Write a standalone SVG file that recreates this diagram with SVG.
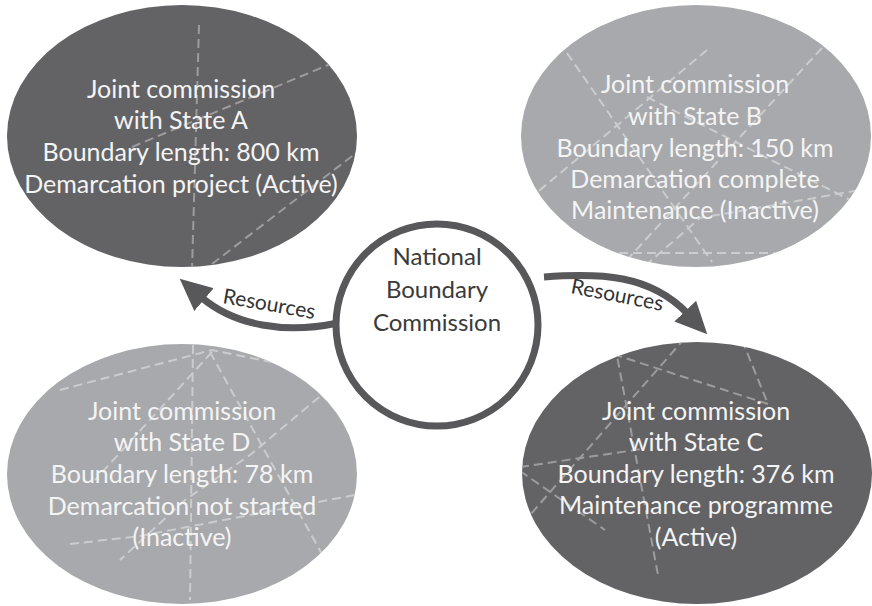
<svg xmlns="http://www.w3.org/2000/svg" width="872" height="606" viewBox="0 0 872 606">
<style>
.dark{fill:#636365}
.light{fill:#a8a9ac}
.dashD{fill:none;stroke:#9c9c9e;stroke-width:2;stroke-dasharray:9 5}
.dashL{fill:none;stroke:#cbcccd;stroke-width:2;stroke-dasharray:9 5}
.lbl{font-family:Lato,"Open Sans","Liberation Sans",sans-serif;font-size:25px;fill:#f4f4f4;text-anchor:middle}
.ctr{font-family:Lato,"Open Sans","Liberation Sans",sans-serif;font-size:24px;fill:#3a3a3a;text-anchor:middle}
.res{font-family:Lato,"Open Sans","Liberation Sans",sans-serif;font-size:21px;fill:#333333;text-anchor:middle}
.conn{fill:none;stroke:#58585a;stroke-width:7}
</style>
<defs>
<marker id="ah" markerUnits="userSpaceOnUse" viewBox="0 0 32 30" markerWidth="32" markerHeight="30" refX="4" refY="15" orient="auto">
<path d="M0,0 L32,15 L0,30 z" fill="#58585a"/>
</marker>
<clipPath id="cA"><ellipse cx="182" cy="136" rx="175" ry="131"/></clipPath>
<clipPath id="cB"><ellipse cx="696" cy="136" rx="175" ry="131"/></clipPath>
<clipPath id="cC"><ellipse cx="697" cy="473" rx="175" ry="131"/></clipPath>
<clipPath id="cD"><ellipse cx="182" cy="474" rx="175" ry="130"/></clipPath>
</defs>

<g id="node-a">
<ellipse class="dark" cx="182" cy="136" rx="175" ry="131"/>
<g clip-path="url(#cA)">
<path class="dashD" d="M199 25 L192 270"/>
<path class="dashD" d="M132 147 L340 60"/>
<path class="dashD" d="M212 264 L360 150"/>
</g>
<text class="lbl" x="181" y="98">Joint commission</text>
<text class="lbl" x="181" y="129">with State A</text>
<text class="lbl" x="181" y="161">Boundary length: 800 km</text>
<text class="lbl" x="181" y="193">Demarcation project (Active)</text>
</g>

<g id="node-b">
<ellipse class="light" cx="696" cy="136" rx="175" ry="131"/>
<g clip-path="url(#cB)">
<path class="dashL" d="M567 53 L712 262"/>
<path class="dashL" d="M707 50 L528 200"/>
<path class="dashL" d="M822 48 L625 262"/>
<path class="dashL" d="M647 97 L870 210"/>
<path class="dashL" d="M605 253 L775 253"/>
<path class="dashL" d="M645 266 L700 218 L860 190"/>
</g>
<text class="lbl" x="695" y="93">Joint commission</text>
<text class="lbl" x="695" y="125">with State B</text>
<text class="lbl" x="695" y="157">Boundary length: 150 km</text>
<text class="lbl" x="695" y="188">Demarcation complete</text>
<text class="lbl" x="695" y="219">Maintenance (Inactive)</text>
</g>

<g id="node-d">
<ellipse class="light" cx="182" cy="474" rx="175" ry="130"/>
<g clip-path="url(#cD)">
<path class="dashL" d="M193 345 L190 600"/>
<path class="dashL" d="M210 352 L328 565"/>
<path class="dashL" d="M212 352 L95 480"/>
<path class="dashL" d="M60 390 L212 350 L300 368"/>
<path class="dashL" d="M330 388 L250 455 L185 500 L120 560"/>
<path class="dashL" d="M70 544 L140 536 L360 494"/>
</g>
<text class="lbl" x="182" y="420">Joint commission</text>
<text class="lbl" x="182" y="451">with State D</text>
<text class="lbl" x="182" y="483">Boundary length: 78 km</text>
<text class="lbl" x="182" y="515">Demarcation not started</text>
<text class="lbl" x="182" y="546">(Inactive)</text>
</g>

<g id="node-c">
<ellipse class="dark" cx="697" cy="473" rx="175" ry="131"/>
<g clip-path="url(#cC)">
<path class="dashD" d="M615 345 L658 575"/>
<path class="dashD" d="M600 350 L768 404"/>
<path class="dashD" d="M742 340 L768 404"/>
<path class="dashD" d="M685 338 L530 515"/>
<path class="dashD" d="M520 467 L642 449"/>
<path class="dashD" d="M520 471 L605 530"/>
</g>
<text class="lbl" x="696" y="420">Joint commission</text>
<text class="lbl" x="696" y="451">with State C</text>
<text class="lbl" x="696" y="483">Boundary length: 376 km</text>
<text class="lbl" x="696" y="514">Maintenance programme</text>
<text class="lbl" x="696" y="546">(Active)</text>
</g>

<g id="connectors">
<path class="conn" d="M338 323 C285 334 235 326 201 297" marker-end="url(#ah)"/>
<path class="conn" d="M544 277 C600 273 650 274 688 314" marker-end="url(#ah)"/>
<text class="res" transform="translate(268 311) rotate(10)">Resources</text>
<text class="res" transform="translate(616 302) rotate(11)">Resources</text>
</g>

<g id="node-center">
<circle cx="437" cy="325" r="101" fill="#ffffff" stroke="#58585a" stroke-width="7"/>
<text class="ctr" x="437" y="265">National</text>
<text class="ctr" x="437" y="298">Boundary</text>
<text class="ctr" x="437" y="331">Commission</text>
</g>
</svg>
